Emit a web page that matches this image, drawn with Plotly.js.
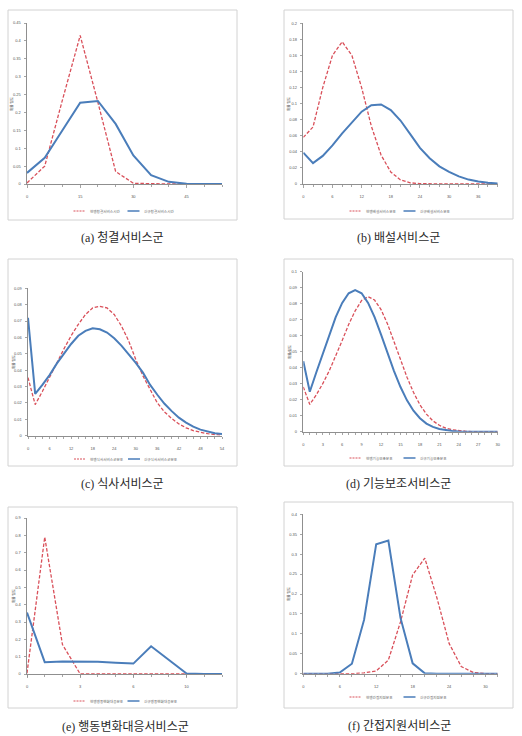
<!DOCTYPE html>
<html>
<head>
<meta charset="utf-8">
<script src="https://cdn.plot.ly/plotly-3.0.1.min.js"></script>
<style>
  html, body { margin: 0; padding: 0; background: #ffffff; }
  #chart { width: 522px; height: 736px; }
</style>
</head>
<body>
<div id="chart"></div>
<script>
// ---- data: distribution of service time, current (현행) vs new (신규) ----
const aX = [0, 5, 10, 15, 20, 25, 30, 35, 40, 45, 50, 55];
const aCurrent = [0.003, 0.05, 0.235, 0.415, 0.228, 0.035, 0.002, 0, 0, 0, 0, 0];
const aNew = [0.031, 0.073, 0.15, 0.227, 0.232, 0.168, 0.08, 0.025, 0.006, 0.001, 0, 0];

const bX = [0, 2, 4, 6, 8, 10, 12, 14, 16, 18, 20, 22, 24, 26, 28, 30, 32, 34, 36, 38, 40];
const bCurrent = [0.058, 0.071, 0.12, 0.16, 0.177, 0.16, 0.12, 0.072, 0.036, 0.015, 0.005,
                  0.0015, 0.0004, 0.0001, 0, 0, 0, 0, 0, 0, 0];
const bNew = [0.039, 0.026, 0.035, 0.048, 0.063, 0.077, 0.09, 0.098, 0.099, 0.092, 0.079,
              0.062, 0.045, 0.032, 0.022, 0.0152, 0.0095, 0.0055, 0.003, 0.0015, 0.0007];

const cX = [0, 2, 4, 6, 8, 10, 12, 14, 16, 18, 20, 22, 24, 26, 28, 30, 32, 34, 36, 38,
            40, 42, 44, 46, 48, 50, 52, 54];
const cCurrent = [0.0355, 0.019, 0.027, 0.036, 0.044, 0.053, 0.061, 0.068, 0.074, 0.078,
                  0.079, 0.078, 0.074, 0.067, 0.058, 0.0465, 0.0365, 0.028, 0.020, 0.0145,
                  0.0105, 0.0072, 0.0048, 0.0031, 0.002, 0.0012, 0.0007, 0.0004];
const cNew = [0.072, 0.0255, 0.031, 0.037, 0.044, 0.05, 0.056, 0.061, 0.064, 0.0656,
              0.065, 0.063, 0.0595, 0.055, 0.05, 0.0445, 0.0385, 0.031, 0.025, 0.0195,
              0.015, 0.011, 0.008, 0.0055, 0.0037, 0.0024, 0.0015, 0.001];

const dX = [0, 1, 2, 3, 4, 5, 6, 7, 8, 9, 10, 11, 12, 13, 14, 15, 16, 17, 18, 19, 20,
            21, 22, 23, 24, 25, 26, 27, 28, 29, 30];
const dCurrent = [0.028, 0.017, 0.023, 0.03, 0.038, 0.047, 0.057, 0.067, 0.0755, 0.082,
                  0.0844, 0.0823, 0.0763, 0.0673, 0.0564, 0.045, 0.0341, 0.0246, 0.0168,
                  0.011, 0.0068, 0.004, 0.0022, 0.0012, 0.0006, 0.0003, 0.0001, 0, 0, 0, 0];
const dNew = [0.044, 0.025, 0.037, 0.049, 0.061, 0.0716, 0.0805, 0.0865, 0.0885, 0.0865,
              0.0805, 0.0716, 0.0607, 0.0491, 0.0379, 0.0279, 0.0196, 0.0131, 0.0084,
              0.0051, 0.003, 0.0017, 0.0009, 0.0005, 0.0002, 0.0001, 0, 0, 0, 0, 0];

const eX = [0, 1, 2, 3, 4, 5, 6, 7, 8, 9, 10, 11];
const eTickVals = [0, 3, 6, 9];
const eTickText = ['0', '3', '6', '10'];
const eCurrent = [0.005, 0.79, 0.17, 0, 0, 0, 0, 0, 0, 0, 0, 0];
const eNew = [0.355, 0.068, 0.072, 0.072, 0.07, 0.065, 0.06, 0.16, 0.079, 0.003, 0, 0];

const fX = [0, 2, 4, 6, 8, 10, 12, 14, 16, 18, 20, 22, 24, 26, 28, 30, 32];
const fCurrent = [0, 0, 0, 0, 0, 0.002, 0.007, 0.034, 0.13, 0.248, 0.29, 0.19, 0.076,
                  0.018, 0.003, 0, 0];
const fNew = [0, 0, 0, 0.003, 0.025, 0.135, 0.325, 0.334, 0.14, 0.026, 0.001, 0, 0, 0,
              0, 0, 0];

const captions = ['(a) 청결서비스군', '(b) 배설서비스군', '(c) 식사서비스군',
                  '(d) 기능보조서비스군', '(e) 행동변화대응서비스군', '(f) 간접지원서비스군'];
const seriesNames = [
  ['현행청결서비스시간', '신규청결서비스시간'],
  ['현행배설서비스분포', '신규배설서비스분포'],
  ['현행식사서비스군분포', '신규식사서비스군분포'],
  ['현행기능보조분포', '신규기능보조분포'],
  ['현행행동변화대응분포', '신규행동변화대응분포'],
  ['현행간접지원분포', '신규간접지원분포']
];
const yTitle = '확률 밀도';

const series = [
  [aX, aCurrent, aNew], [bX, bCurrent, bNew], [cX, cCurrent, cNew],
  [dX, dCurrent, dNew], [eX, eCurrent, eNew], [fX, fCurrent, fNew]
];

// ---- page geometry (pixels on the 522 x 736 page) ----
const W = 522, H = 736;
const px = v => v / W;
const py = v => 1 - v / H;

const frames = [
  { box: [8, 10, 237, 220],   plot: [27, 23, 222, 184],      xRange: [0, 55], xDtick: 15, xMinor: 5, yMax: 0.45, yDtick: 0.05, legY: 211, cap: [122, 238], yt: [12, 104] },
  { box: [284, 10, 513, 219], plot: [303.3, 23.3, 497.7, 184], xRange: [0, 40], xDtick: 6,  xMinor: 2, yMax: 0.2,  yDtick: 0.02, legY: 211, cap: [398, 238], yt: [289, 104] },
  { box: [8, 259, 237, 466],  plot: [28, 288.3, 222, 435.7],  xRange: [0, 54], xDtick: 6,  xMinor: 2, yMax: 0.09, yDtick: 0.01, legY: 459, cap: [122, 484], yt: [13, 362] },
  { box: [284, 259, 513, 466],plot: [303.3, 271.7, 497.7, 431.7], xRange: [0, 30], xDtick: 3, xMinor: 1, yMax: 0.1, yDtick: 0.01, legY: 458, cap: [398, 484], yt: [289, 352] },
  { box: [8, 507, 237, 708],  plot: [27, 518, 222, 674],      xRange: [0, 11], xDtick: null, xMinor: 1, yMax: 0.9, yDtick: 0.1, legY: 701, cap: [125, 726], yt: [13, 596] },
  { box: [284, 502, 513, 708],plot: [303.3, 514.3, 497.7, 673.7], xRange: [0, 32], xDtick: 6, xMinor: 2, yMax: 0.4, yDtick: 0.05, legY: 697, cap: [399, 726], yt: [288, 594] }
];

const RED = '#d9505a';
const BLUE = '#4a7dba';
const AXIS = '#8f8f8f';
const tickFont = { family: 'Liberation Sans, Arial, sans-serif', size: 4, color: '#555555' };

const traces = [];
const layout = {
  width: W, height: H,
  margin: { l: 0, r: 0, t: 0, b: 0 },
  paper_bgcolor: '#ffffff',
  plot_bgcolor: '#ffffff',
  showlegend: false,
  shapes: [],
  annotations: []
};

frames.forEach((f, i) => {
  const n = i === 0 ? '' : String(i + 1);
  const [x0, yTop, x1, yBot] = f.plot;
  const [xs, cur, nw] = series[i];

  traces.push({
    x: xs, y: cur, type: 'scatter', mode: 'lines', name: seriesNames[i][0],
    xaxis: 'x' + n, yaxis: 'y' + n,
    line: { color: RED, width: 1.3, dash: '3.5px,1.8px' }
  });
  traces.push({
    x: xs, y: nw, type: 'scatter', mode: 'lines', name: seriesNames[i][1],
    xaxis: 'x' + n, yaxis: 'y' + n,
    line: { color: BLUE, width: 2 }
  });

  const xa = {
    domain: [px(x0), px(x1)], range: f.xRange, anchor: 'y' + n,
    showgrid: false, zeroline: false, showline: true, linecolor: AXIS, linewidth: 1,
    ticks: 'outside', ticklen: 2.5, tickcolor: AXIS, tickwidth: 0.8,
    tickfont: tickFont, ticklabelstandoff: 6, fixedrange: true,
    minor: { tickmode: 'linear', tick0: 0, dtick: f.xMinor, ticks: 'outside', ticklen: 2, tickcolor: AXIS, tickwidth: 0.8 }
  };
  if (f.xDtick === null) {
    xa.tickmode = 'array'; xa.tickvals = eTickVals; xa.ticktext = eTickText;
  } else {
    xa.tickmode = 'linear'; xa.tick0 = 0; xa.dtick = f.xDtick;
  }
  layout['xaxis' + n] = xa;

  layout['yaxis' + n] = {
    domain: [py(yBot), py(yTop)], range: [0, f.yMax], anchor: 'x' + n,
    showgrid: false, zeroline: false, showline: true, linecolor: AXIS, linewidth: 1,
    ticks: 'outside', ticklen: 2.5, tickcolor: AXIS, tickwidth: 0.8,
    tickmode: 'linear', tick0: 0, dtick: f.yDtick,
    tickfont: tickFont, ticklabelstandoff: 2, fixedrange: true
  };

  // frame around each panel
  layout.shapes.push({
    type: 'rect', xref: 'paper', yref: 'paper', layer: 'below',
    x0: px(f.box[0]), x1: px(f.box[2]), y0: py(f.box[3]), y1: py(f.box[1]),
    line: { color: '#d2d2d2', width: 1 }, fillcolor: 'rgba(0,0,0,0)'
  });

  // legend under each plot
  const cx = (x0 + x1) / 2;
  const ly = f.legY;
  layout.shapes.push({
    type: 'line', xref: 'paper', yref: 'paper',
    x0: px(cx - 51), x1: px(cx - 39), y0: py(ly), y1: py(ly),
    line: { color: RED, width: 1, dash: '2px,1px' }
  });
  layout.shapes.push({
    type: 'line', xref: 'paper', yref: 'paper',
    x0: px(cx + 3), x1: px(cx + 15), y0: py(ly), y1: py(ly),
    line: { color: BLUE, width: 1.5 }
  });
  layout.annotations.push({
    xref: 'paper', yref: 'paper', x: px(cx - 37), y: py(ly), xanchor: 'left', yanchor: 'middle',
    text: seriesNames[i][0], showarrow: false,
    font: { family: 'Noto Sans CJK KR', size: 3.6, color: '#666666' }
  });
  layout.annotations.push({
    xref: 'paper', yref: 'paper', x: px(cx + 17), y: py(ly), xanchor: 'left', yanchor: 'middle',
    text: seriesNames[i][1], showarrow: false,
    font: { family: 'Noto Sans CJK KR', size: 3.6, color: '#666666' }
  });

  // vertical axis title
  layout.annotations.push({
    xref: 'paper', yref: 'paper', x: px(f.yt[0]), y: py(f.yt[1]),
    xanchor: 'center', yanchor: 'middle', textangle: -90,
    text: yTitle, showarrow: false,
    font: { family: 'Noto Sans CJK KR', size: 3.6, color: '#333333' }
  });

  // panel caption
  layout.annotations.push({
    xref: 'paper', yref: 'paper', x: px(f.cap[0]), y: py(f.cap[1]),
    xanchor: 'center', yanchor: 'middle',
    text: captions[i], showarrow: false,
    font: { family: 'Liberation Serif, "Noto Sans CJK KR", serif', size: 12, color: '#2a2a2a' }
  });
});

Plotly.newPlot('chart', traces, layout, { staticPlot: true, displayModeBar: false });
</script>
</body>
</html>
